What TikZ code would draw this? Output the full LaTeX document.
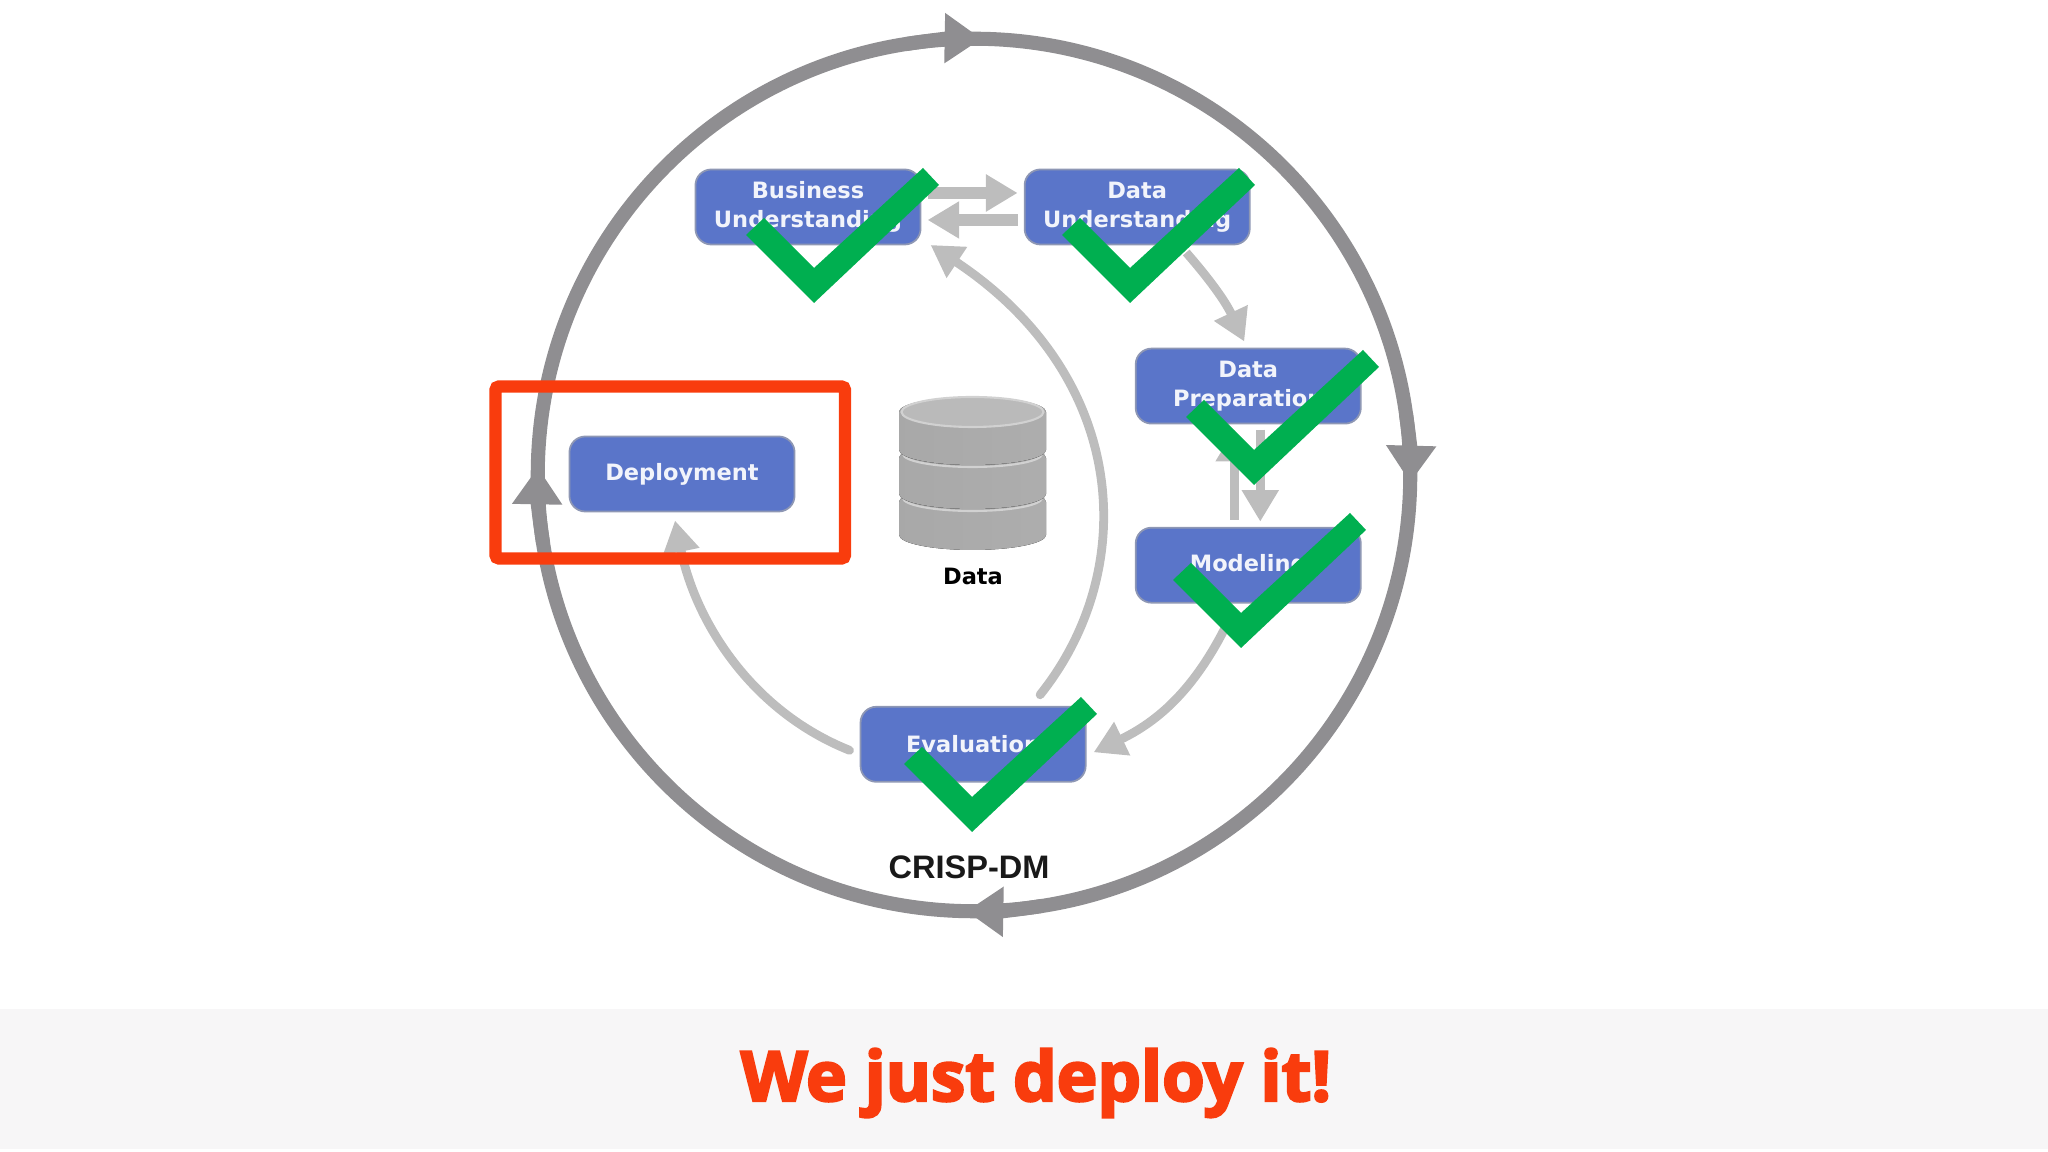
\documentclass[tikz,border=0pt]{standalone}
\usepackage{fontspec}
\usepackage{tikz}
\usetikzlibrary{arrows.meta, positioning, shapes.geometric, calc}
\setmainfont{DejaVu Sans}
\newfontfamily\labelfont{Liberation Sans}
\newfontfamily\titlefont[BoldFeatures={FakeBold=3.5}]{Open Sans}
\definecolor{bandgray}{HTML}{F7F6F7}
\definecolor{ringgray}{HTML}{8F8E91}
\definecolor{arrgray}{HTML}{BDBDBD}
\definecolor{boxblue}{HTML}{5A75C9}
\definecolor{boxedge}{HTML}{8E97B4}
\definecolor{alertred}{HTML}{F93C0D}
\definecolor{tickgreen}{HTML}{00AF50}
\newcommand{\datadisc}[2]{
    \fill[disc] (899,#1) -- (899,#2) arc[start angle=180, end angle=360, x radius=73.5, y radius=15] -- (1046,#1) arc[start angle=0, end angle=180, x radius=73.5, y radius=15] -- cycle;
    \draw[rim] (903,#1+4) arc[start angle=180, end angle=360, x radius=69.5, y radius=13];
}

\begin{document}
\begin{tikzpicture}[
    x=0.01cm, y=0.01cm,
    node distance=1.04cm and 1.04cm,
    stage/.style={rectangle, draw=boxedge, line width=0.5pt, rounded corners=4.5pt, fill=boxblue, minimum height=0.75cm, minimum width=2.25cm, inner sep=0pt, outer sep=0pt, align=center, text=white!92!boxblue, font=\bfseries\fontsize{6.4}{8.2}\selectfont},
    arr/.style={-{Triangle[length=9pt, width=10pt]}, draw=arrgray, line width=2.5pt},
    fatarr/.style={arr, line width=3.4pt},
    ringarr/.style={-{Triangle[length=10.5pt, width=13.6pt]}, draw=ringgray, line width=4pt},
    disc/.style={left color=black!34, middle color=black!15, right color=black!32},
    rim/.style={draw=black!18, line width=0.6pt},
    tick/.pic={\fill[tickgreen] (0,0) -- (125,118) -- (109,135) -- (0,35) -- (-50,85) -- (-68,68) -- cycle;},
]
    \useasboundingbox (0,0) rectangle (2048,1152);
    \fill[bandgray] (0,3) rectangle (2048,143);

    \node[circle, draw=ringgray, line width=4pt, minimum size=8.72cm, inner sep=0pt, outer sep=0pt] (ring) at (974,677) {};
    \draw[ringarr] (ring.99) to[out=9, in=179] (ring.89);
    \draw[ringarr] (ring.8.5) to[out=-81.5, in=88.5] (ring.-1.5);
    \draw[ringarr] (ring.-81) to[out=-171, in=-1] (ring.-91);
    \draw[ringarr] (ring.-171) to[out=99, in=-91] (ring.179);

    \node[stage] (biz) at (808,945) {Business\\Understanding};
    \node[stage, right=of biz] (dataund) {Data\\Understanding};
    \node[stage, below=of dataund, xshift=1.11cm] (prep) {Data\\Preparation};
    \node[stage, below=of prep] (model) {Modeling};
    \node[stage, below=of model, xshift=-2.75cm] (eval) {Evaluation};
    \node[stage] (deploy) at (682,678) {Deployment};

    \draw[fatarr] ($(biz.east)+(7,14)$) -- ($(dataund.west)+(-7,14)$);
    \draw[fatarr] ($(dataund.west)+(-7,-13)$) -- ($(biz.east)+(7,-13)$);
    \draw[arr] ($(dataund.south)+(49,-8)$) to[bend left=8] ($(prep.north)+(-4,7)$);
    \draw[arr] ($(prep.south)+(12,-6)$) -- ($(model.north)+(12,6)$);
    \draw[arr] ($(model.north)+(-14,8)$) -- ($(prep.south)+(-14,-6)$);
    \draw[arr] ($(model.south)+(-14,-6)$) to[bend left=20] ($(eval.east)+(8,-8)$);
    \draw[arr, line cap=round] ($(eval.north)+(67,12)$) .. controls +(100,125) and +(199,-132) .. ($(biz.east)+(10,-38)$);
    \draw[arr, line cap=round] ($(eval.west)+(-11,-6)$) .. controls +(-100,40) and +(20,-99) .. ($(deploy.south)+(-7,-9)$);

    \datadisc{650}{617}
    \datadisc{694}{658}
    \datadisc{740}{702}
    \draw[rim, fill=black!27] (972.5,740) ellipse[x radius=71, y radius=15];
    \node[font=\bfseries\fontsize{6.4}{8}\selectfont] (data) at (973,576) {Data};

    \node[font=\labelfont\bfseries\fontsize{9.25}{11}\selectfont, text=black!90] (crisp) at (969,285) {CRISP-DM};

    \pic at (814,849) {tick};
    \pic at (1130,849) {tick};
    \pic at (1254,667) {tick};
    \pic at (1241,504) {tick};
    \pic at (972,320) {tick};

    \draw[alertred, line width=3.5pt, rounded corners=1pt] (495.5,765.5) rectangle (845,593.5);

    \node[font=\titlefont\bfseries\fontsize{19.6}{23}\selectfont, text=alertred] (title) at (1036,69) {We just deploy it!};
\end{tikzpicture}
\end{document}
